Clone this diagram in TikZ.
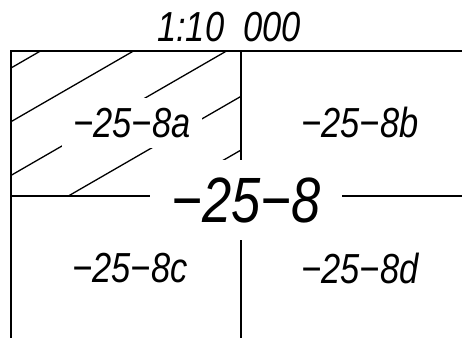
\documentclass[tikz,border=0pt]{standalone}
\usepackage{fontspec}
\newfontfamily\cadfont[FakeStretch=0.82]{Liberation Sans}
\tikzset{
  frameline/.style={line width=1.6pt},
  hatchline/.style={line width=1.3pt},
  lbl/.style={font=\cadfont\itshape\fontsize{42}{42}\selectfont, inner sep=0pt},
  biglbl/.style={font=\cadfont\itshape\fontsize{64}{64}\selectfont, inner sep=0pt}
}
\begin{document}
\begin{tikzpicture}[x=1pt,y=-1pt]
\useasboundingbox (0,0) rectangle (462,338);
% frame
\draw[frameline] (462,51) -- (11,51) -- (11,338);
\coordinate (vt) at (241,51);
\coordinate (vb) at (241,338);
\coordinate (hl) at (11,196);
\coordinate (hr) at (462,196);
\draw[frameline] (vt) -- (vb);
\draw[frameline] (hl) -- (hr);
% hatching
\begin{scope}
\clip (11,51) rectangle (241,196);
\foreach \y in {68,121.7,175.4,229.1,282.8}{
  \draw[hatchline] (11,\y) -- ++(400,-230.9);
}
\end{scope}
% labels
\node[lbl] (title) at (229,27) {1:10\ \ 000};
\node[lbl, fill=white, minimum width=140pt, minimum height=50pt] (a) at (132,123) {−25−8a};
\node[lbl] (b) at (360,122) {−25−8b};
\node[lbl] (c) at (130,268) {−25−8c};
\node[lbl] (d) at (360,268) {−25−8d};
\node[biglbl, fill=white, minimum width=192pt, minimum height=80pt] (main) at (246,200) {−25−8};
\end{tikzpicture}
\end{document}
